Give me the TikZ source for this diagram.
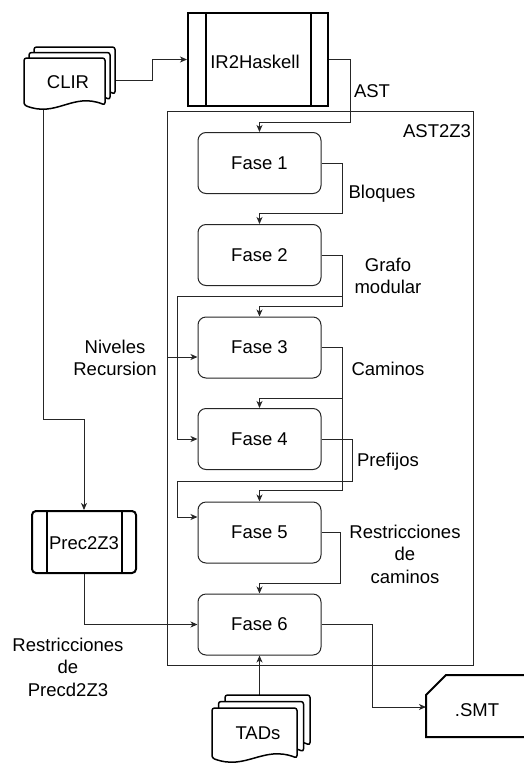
\documentclass[tikz,border=0pt]{standalone}
\usepackage{fontspec}
\setmainfont{Liberation Sans}
\usetikzlibrary{arrows.meta}
\newcommand\docsheet[4]{%
  \draw[line width=1.5pt, fill=white, rounded corners=2.5pt]
    (#1,{#2+#4}) -- (#1,#2) -- ({#1+#3},#2) -- ({#1+#3},{#2+#4})
    .. controls ({#1+0.6*#3},{#2+#4-13}) and ({#1+0.4*#3},{#2+#4+13}) .. (#1,{#2+#4}) -- cycle;}
\begin{document}
\begin{tikzpicture}[x=1pt,y=-1pt,
  every node/.style={font=\fontsize{18.5}{22.5}\selectfont, inner sep=0pt, align=center},
  fase/.style={draw=black!85, line width=1pt, rounded corners=8pt, fill=white,
    minimum width=123pt, minimum height=61pt},
  conn/.style={draw=black!85, line width=1pt, -{Stealth[length=7pt,width=6pt,inset=2pt]}},
  procbox/.style={draw=black, line width=2pt},
  lbl/.style={}]
\useasboundingbox (0,0) rectangle (524,764);

% container
\node[draw=black!85, line width=1pt, minimum width=306pt, minimum height=554pt] (ast2z3) at (320,388) {};
\node[lbl] (ast2z3l) at (437,131) {AST2Z3};

% processes
\node[procbox, minimum width=140pt, minimum height=93pt] (ir) at (258,59.5) {};
\draw[procbox] ([xshift=19pt]ir.north west) -- ([xshift=19pt]ir.south west);
\draw[procbox] ([xshift=-18pt]ir.north east) -- ([xshift=-18pt]ir.south east);
\node (irt) at (255,62) {IR2Haskell};

\node[procbox, rounded corners=4pt, minimum width=104pt, minimum height=62pt] (prec) at (84,542) {};
\draw[procbox] ([xshift=16pt]prec.north west) -- ([xshift=16pt]prec.south west);
\draw[procbox] ([xshift=-15pt]prec.north east) -- ([xshift=-15pt]prec.south east);
\node (prect) at (84,543) {Prec2Z3};

% phases
\node[fase] (f1) at (259.5,163) {Fase 1};
\node[fase] (f2) at (259.5,255) {Fase 2};
\node[fase] (f3) at (259.5,347.5) {Fase 3};
\node[fase] (f4) at (259.5,439) {Fase 4};
\node[fase] (f5) at (259.5,532.5) {Fase 5};
\node[fase] (f6) at (259.5,624.5) {Fase 6};

% coordinates
\coordinate (clirout) at (115,80);
\coordinate (clirbot) at (43,108);
\coordinate (nivout) at (167,357);
\coordinate (tadtop) at (259.5,697);
\coordinate (smtin) at (426,707);

% connectors
\draw[conn] (clirout) -- (152,80) |- (ir.west);
\draw[conn] (ir.east) -| (350,122) -| (f1.north);
\draw[conn] (clirbot) -- (43,419) -| (prec.north);
\draw[conn] (prec.south) |- (f6.west);
\draw[conn] (f1.east) -| (342,213) -| (f2.north);
\draw[conn] (f2.east) -| (342,306) -| (f3.north);
\draw[conn] (f2.east) -| (342,296) -| (177,439) -- (f4.west);
\draw[conn] (nivout) -- ([yshift=-9.5pt]f3.west);
\draw[conn] (f3.east) -| (342,398) -| (f4.north);
\draw[conn] (f3.east) -| (342,490) -| (f5.north);
\draw[conn] (f4.east) -| (352,481) -| (177,517) -- ([yshift=15.5pt]f5.west);
\draw[conn] (f5.east) -| (340,583) -| (f6.north);
\draw[conn] (tadtop) -- (f6.south);
\draw[conn] (f6.east) -| (372,707) -- (smtin);

% document stacks
\docsheet{34}{47}{81}{47}
\docsheet{29}{52.5}{81}{47}
\docsheet{24}{58}{81}{47}
\node (clir) at (68,82) {CLIR};

\docsheet{225}{695}{85}{50}
\docsheet{218.5}{701.5}{85}{50}
\docsheet{212}{708}{85}{50}
\node (tads) at (258,733) {TADs};

% SMT card
\draw[line width=2pt] (524,675) -- (446,675) -- (426,695) -- (426,737) -- (524,737);
\node (smt) at (477,710) {.SMT};

% labels
\node[lbl] (astl) at (372,91) {AST};
\node[lbl] (bloq) at (382,194) {Bloques};
\node[lbl] (grafo) at (388,276) {Grafo\\modular};
\node[lbl] (cam) at (388,369) {Caminos};
\node[lbl] (pref) at (388,462) {Prefijos};
\node[lbl] (rcam) at (405,554) {Restricciones\\de\\caminos};
\node[lbl] (niv) at (115,358) {Niveles\\Recursion};
\node[lbl] (rprec) at (68,667) {Restricciones\\de\\Precd2Z3};
\end{tikzpicture}
\end{document}
